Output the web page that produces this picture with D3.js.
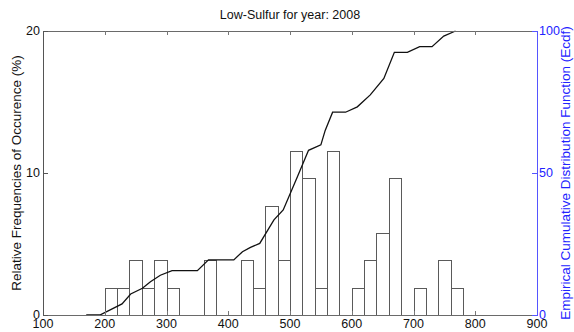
<!DOCTYPE html>
<html>
<head>
<meta charset="utf-8">
<script src="https://cdn.jsdelivr.net/npm/d3@7"></script>
<style>
  body { margin:0; background:#fff; }
  svg { display:block; font-family:"Liberation Sans", Arial, sans-serif; }
</style>
</head>
<body>
<svg id="chart" width="574" height="332"></svg>
<script>
// histogram bins (left edge, width 20) and relative frequency in %
var binStarts = [200,220,240,260,280,300,360,420,440,460,480,500,520,540,560,600,620,640,660,700,740,760];
var binFreq   = [1.92,1.92,3.85,1.92,3.85,1.92,3.85,3.85,1.92,7.69,3.85,11.54,9.62,1.92,11.54,1.92,3.85,5.77,9.62,1.92,3.85,1.92];
var binWidth = 20;

// empirical cdf
var ecdfX = [170,192,228,242,261,274,290,309,350,368,409,423,436,451,474,489,512,530,550,557,569,590,609,630,652,669,690,710,730,749,768];
var ecdfY = [0,0,3.9,7.4,9.4,11.7,14,15.6,15.6,19.4,19.4,22.3,23.8,25.2,33.5,37,48.7,58,59.9,65,71.4,71.4,73.3,77.5,83.3,92.5,92.5,94.5,94.5,98.2,100];

var xTicks = [100,200,300,400,500,600,700,800,900];
var yTicks = [0,10,20];
var y2Ticks = [0,50,100];

var svg = d3.select("#chart");
var L=43, R=537, T=31, B=315;

var x = d3.scaleLinear().domain([100,900]).range([L,R]);
var y = d3.scaleLinear().domain([0,20]).range([B,T]);
var y2 = d3.scaleLinear().domain([0,100]).range([B,T]);

// bars
svg.append("g").selectAll("rect").data(binStarts).enter().append("rect")
  .attr("x", function(d){ return Math.round(x(d))+0.5; })
  .attr("y", function(d,i){ return Math.round(y(binFreq[i]))+0.5; })
  .attr("width", function(d){ return Math.round(x(d+binWidth))-Math.round(x(d)); })
  .attr("height", function(d,i){ return Math.round(y(0))-Math.round(y(binFreq[i])); })
  .attr("fill","#fff").attr("stroke","#5a5a5a").attr("stroke-width",1);

// ecdf line
var line = d3.line().x(function(d){ return x(d[0]); }).y(function(d){ return y2(d[1]); });
svg.append("path").datum(d3.zip(ecdfX, ecdfY))
  .attr("d", line).attr("fill","none").attr("stroke","#111").attr("stroke-width",1.3);

// box + ticks
var ax = svg.append("g").attr("shape-rendering","crispEdges");
ax.append("line").attr("x1",L).attr("x2",R).attr("y1",T+0.5).attr("y2",T+0.5).attr("stroke","#6a6a6a");
ax.append("line").attr("x1",L).attr("x2",R).attr("y1",B+0.5).attr("y2",B+0.5).attr("stroke","#6a6a6a");
ax.append("line").attr("x1",L+0.5).attr("x2",L+0.5).attr("y1",T).attr("y2",B+1).attr("stroke","#555");
ax.append("line").attr("x1",R+0.5).attr("x2",R+0.5).attr("y1",T).attr("y2",B+1).attr("stroke","#5555ff");

xTicks.slice(1,-1).forEach(function(t){
  var px = Math.round(x(t))+0.5;
  ax.append("line").attr("x1",px).attr("x2",px).attr("y1",B).attr("y2",B-4).attr("stroke","#777");
  ax.append("line").attr("x1",px).attr("x2",px).attr("y1",T).attr("y2",T+4).attr("stroke","#777");
});
yTicks.forEach(function(t){
  var py = Math.round(y(t))+0.5;
  ax.append("line").attr("x1",L).attr("x2",L+5).attr("y1",py).attr("y2",py).attr("stroke","#555");
});
y2Ticks.forEach(function(t){
  var py = Math.round(y2(t))+0.5;
  ax.append("line").attr("x1",R-5).attr("x2",R).attr("y1",py).attr("y2",py).attr("stroke","#5555ff");
});

// tick labels
svg.append("g").selectAll("text").data(xTicks).enter().append("text")
  .attr("x", function(d){ return x(d); }).attr("y", 328)
  .attr("text-anchor","middle").attr("font-size",12.5).attr("fill","#111")
  .text(function(d){ return d; });
svg.append("g").selectAll("text").data(yTicks).enter().append("text")
  .attr("x", L-3).attr("y", function(d){ return y(d)+4; })
  .attr("text-anchor","end").attr("font-size",12.5).attr("fill","#111")
  .text(function(d){ return d; });
svg.append("g").selectAll("text").data(y2Ticks).enter().append("text")
  .attr("x", R+2).attr("y", function(d){ return y2(d)+4; })
  .attr("text-anchor","start").attr("font-size",12.5).attr("fill","#2222ff")
  .text(function(d){ return d; });

// titles
svg.append("text").attr("x",(L+R)/2).attr("y",19).attr("text-anchor","middle")
  .attr("font-size",12.5).attr("fill","#111").text("Low-Sulfur for year: 2008");
svg.append("text").attr("transform","translate(21,"+((T+B)/2)+") rotate(-90)")
  .attr("text-anchor","middle").attr("font-size",13.5).attr("fill","#111")
  .text("Relative Frequencies of Occurence (%)");
svg.append("text").attr("transform","translate(570,"+((T+B)/2)+") rotate(-90)")
  .attr("text-anchor","middle").attr("font-size",13.5).attr("fill","#2222ff")
  .text("Empirical Cumulative Distribution Function (Ecdf)");
</script>
</body>
</html>
